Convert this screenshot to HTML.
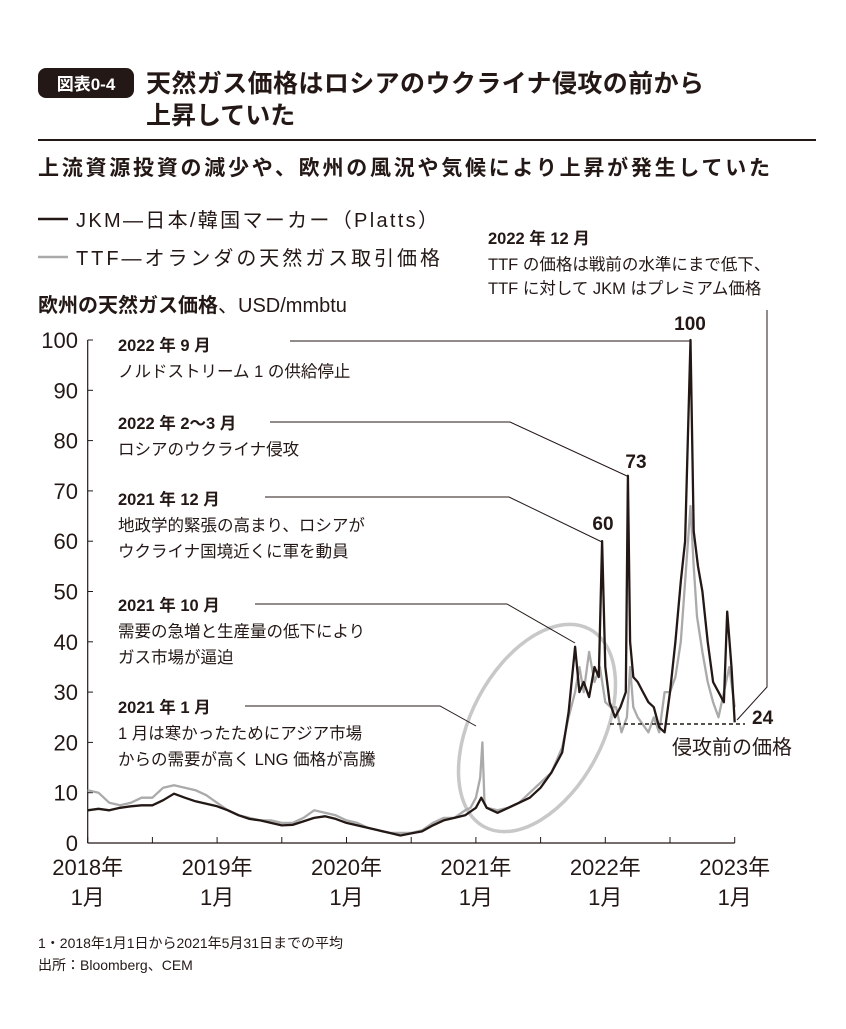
<!DOCTYPE html>
<html><head><meta charset="utf-8"><style>
body{margin:0;background:#fff;}
svg text{font-family:"Liberation Sans","Noto Sans CJK JP",sans-serif;fill:#231815;}
</style></head><body>
<svg id="chart" width="846" height="1024" viewBox="0 0 846 1024" xmlns="http://www.w3.org/2000/svg">
<rect x="38" y="68" width="96" height="30" rx="8" fill="#231815"/>
<text x="86" y="90" text-anchor="middle" font-size="17" font-weight="bold" style="fill:#fff">図表0-4</text>
<text x="146" y="92" font-size="25" font-weight="bold" textLength="558">天然ガス価格はロシアのウクライナ侵攻の前から</text>
<text x="146" y="124" font-size="25" font-weight="bold">上昇していた</text>
<line x1="38" y1="140" x2="816" y2="140" stroke="#231815" stroke-width="2"/>
<text x="38" y="175" font-size="21" font-weight="bold" textLength="732">上流資源投資の減少や、欧州の風況や気候により上昇が発生していた</text>
<g>
<line x1="38" y1="219" x2="68" y2="219" stroke="#231815" stroke-width="2.5"/>
<text x="76" y="227" font-size="20" textLength="362">JKM—日本/韓国マーカー（Platts）</text>
<line x1="38" y1="257" x2="68" y2="257" stroke="#aaa" stroke-width="2.5"/>
<text x="76" y="265" font-size="20" textLength="364">TTF—オランダの天然ガス取引価格</text>
</g>
<text x="38" y="312" font-size="20" font-weight="bold">欧州の天然ガス価格<tspan font-weight="normal">、USD/mmbtu</tspan></text>
<g id="axes"></g>
<ellipse cx="537" cy="728" rx="66" ry="112" transform="rotate(28 537 728)" fill="none" stroke="#c8c8c8" stroke-width="3.5"/>
<g id="series"></g>
<g id="annotations" stroke="#231815" stroke-width="1" fill="none"></g>
<g font-size="16.5">
<text x="118" y="351" font-weight="600">2022 年 9 月</text>
<text x="118" y="377">ノルドストリーム 1 の供給停止</text>
<text x="118" y="429" font-weight="600">2022 年 2〜3 月</text>
<text x="118" y="455">ロシアのウクライナ侵攻</text>
<text x="118" y="505" font-weight="600">2021 年 12 月</text>
<text x="118" y="531">地政学的緊張の高まり、ロシアが</text>
<text x="118" y="557">ウクライナ国境近くに軍を動員</text>
<text x="118" y="611" font-weight="600">2021 年 10 月</text>
<text x="118" y="637">需要の急増と生産量の低下により</text>
<text x="118" y="663">ガス市場が逼迫</text>
<text x="118" y="713" font-weight="600">2021 年 1 月</text>
<text x="118" y="739">1 月は寒かったためにアジア市場</text>
<text x="118" y="765">からの需要が高く LNG 価格が高騰</text>
<text x="488" y="244" font-weight="600">2022 年 12 月</text>
<text x="488" y="270">TTF の価格は戦前の水準にまで低下、</text>
<text x="488" y="294">TTF に対して JKM はプレミアム価格</text>
</g>
<g font-size="19" font-weight="bold">
<text x="690" y="330" text-anchor="middle">100</text>
<text x="636" y="468" text-anchor="middle">73</text>
<text x="603" y="530" text-anchor="middle">60</text>
<text x="752" y="724">24</text>
</g>
<text x="672" y="754" font-size="20">侵攻前の価格</text>
<text x="38" y="948" font-size="14">1・2018年1月1日から2021年5月31日までの平均</text>
<text x="38" y="970" font-size="14">出所：Bloomberg、CEM</text>
</svg>
<script>
// months since Jan 2018
const jkmMonths=[0,1,2,3,4,5,6,7,8,9,10,11,12,13,14,15,16,17,18,19,20,21,22,23,24,25,26,27,28,29,30,31,32,33,34,35,36,36.5,37,38,39,40,41,42,43,44,44.6,45.2,45.6,46,46.5,47,47.4,47.7,48,48.4,48.9,49.4,49.9,50.1,50.3,50.6,51,51.5,52,52.5,53,53.5,54,54.5,55,55.4,55.9,56.2,56.6,57,57.5,58,58.5,59,59.3,59.7,60];
const jkmValues=[6.5,6.8,6.5,7,7.3,7.5,7.5,8.5,9.8,9,8.3,7.8,7.3,6.5,5.5,4.8,4.5,4,3.5,3.6,4.3,5,5.3,4.8,4,3.5,3,2.5,2,1.5,1.9,2.3,3.5,4.5,5,5.5,7,9,7,6,7,8,9,11,14,18,26,39,30,32,29,35,33,60,35,28,25,27,30,73,40,33,32,30,28,27,23,22,30,40,52,60,100,62,55,50,40,32,30,28,46,35,24];
const ttfMonths=[0,1,2,3,4,5,6,7,8,9,10,11,12,13,14,15,16,17,18,19,20,21,22,23,24,25,26,27,28,29,30,31,32,33,34,35,35.5,36,36.4,36.6,36.8,37,38,39,40,41,42,43,44,44.6,45.2,45.6,46,46.5,47,47.5,48,48.5,49,49.5,50,50.3,50.6,51,52,52.5,53,53.5,54,54.5,55,55.5,55.9,56.2,56.5,57,57.5,58,58.5,59,59.5,60];
const ttfValues=[10.5,10,8,7.5,8,9,9,11,11.5,11,10.5,9.5,8,6.5,5.5,5,4.5,4.5,4,4,5,6.5,6,5.5,4.5,4,3,2.5,2,2,2,2.5,4,5,5,6.5,7,9,13,20,8,7,6.5,7,8,10,12,14,19,25,30,35,30,38,32,35,28,27,27,22,25,35,27,25,22,25,22,30,30,33,40,55,67,55,45,38,32,28,25,30,35,27];
const yTicks=[0,10,20,30,40,50,60,70,80,90,100];
const xYears=["2018年","2019年","2020年","2021年","2022年","2023年"];
const x=m=>87.7+m*(647/60);
const y=v=>843-v*5.03;
const NS="http://www.w3.org/2000/svg";
function mk(tag,parent,attrs){const e=document.createElementNS(NS,tag);for(const k in attrs)e.setAttribute(k,attrs[k]);parent.appendChild(e);return e;}
const axes=document.getElementById('axes');
let a=mk('line',axes,{x1:87.7,y1:340,x2:87.7,y2:843,stroke:'#231815','stroke-width':1.2});


a=mk('line',axes,{x1:87.7,y1:843,x2:x(60),y2:843,stroke:'#231815','stroke-width':1.2});


yTicks.forEach(t=>{
 const tl=mk('line',axes,{x1:87.7,y1:y(t),x2:93,y2:y(t),stroke:'#231815'});
 
 
 const tx=mk('text',axes,{x:78,y:y(t)+8,'text-anchor':'end','font-size':22});
 tx.textContent=t;
 
 
});
for(let h=0;h<=10;h++){
 const tl=mk('line',axes,{x1:x(h*6),y1:843,x2:x(h*6),y2:837,stroke:'#231815'});
 
 
}
xYears.forEach((yr,i)=>{
 const t1=mk('text',axes,{x:x(i*12),y:875,'text-anchor':'middle','font-size':22});
 t1.textContent=yr;
 
 
 const t2=mk('text',axes,{x:x(i*12),y:905,'text-anchor':'middle','font-size':22});
 t2.textContent="1月";
 
 
});
const ser=document.getElementById('series');
function pts(ms,vs){return ms.map((m,i)=>x(m).toFixed(1)+','+y(vs[i]).toFixed(1)).join(' ');}
const pt=mk('polyline',ser,{points:pts(ttfMonths,ttfValues),fill:'none',stroke:'#aaa','stroke-width':2.3,'stroke-linejoin':'round'});


const pj=mk('polyline',ser,{points:pts(jkmMonths,jkmValues),fill:'none',stroke:'#231815','stroke-width':2.3,'stroke-linejoin':'round'});


const an=document.getElementById('annotations');
const leaders=[
 ['leader-2022-09',"290,341 690,341 690,345"],
 ['leader-2022-02',"270,422 510,422 627,476"],
 ['leader-2021-12',"265,497 509,497 602,542"],
 ['leader-2021-10',"255,604 507,604 575,643"],
 ['leader-2021-01',"245,706 440,706 476,726"],
 ['leader-2022-12',"767,310 767,687 737,720"]
];
leaders.forEach(l=>{
 const p=mk('polyline',an,{points:l[1]});
 
 
});
const d=mk('line',an,{x1:610,y1:724,x2:745,y2:724,'stroke-dasharray':'4,3','stroke-width':1.5});


</script>
</body></html>
